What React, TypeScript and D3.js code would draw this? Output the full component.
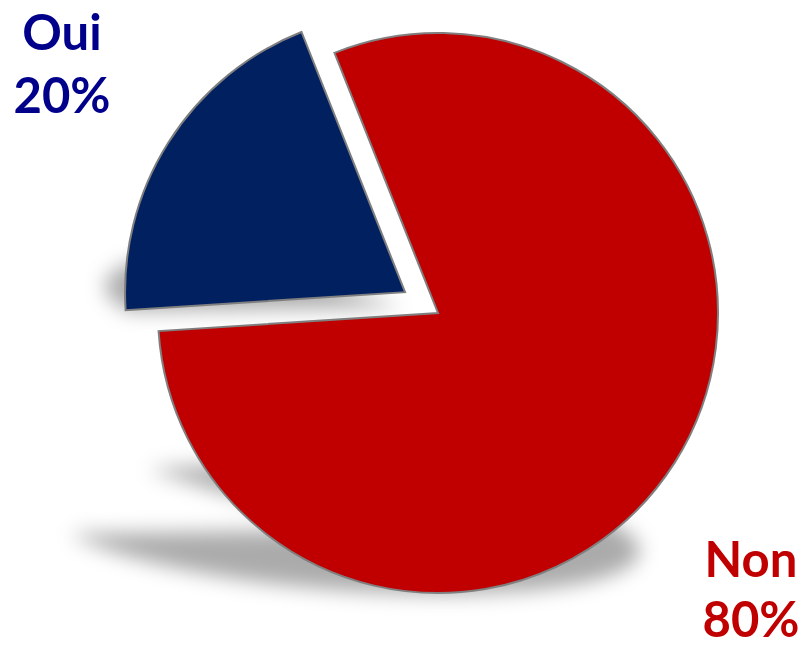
import React from "react";
import * as d3 from "d3";

// ---- data ----
const categories = ["Non", "Oui"];
const values = [80, 20];
const sliceColors = ["#C00000", "#002060"];
const labelColors = ["#C00000", "#00008B"];
const explodeDist = [0, 39];

// ---- layout ----
const W = 804;
const H = 646;
const cx = 438;
const cy = 313;
const R = 280;
const START = (-21.7 * Math.PI) / 180;

// perspective shadow parameters
const SK = 0.35; // skew
const SS = 0.23; // vertical flattening
const SDX = 3;
const SDY = 1;

const labelPosAll = [
  { x: 751, y1: 577, y2: 637 },
  { x: 62, y1: 50, y2: 113 },
];

export default function App() {
  const pie = d3
    .pie<number>()
    .sort(null)
    .value((d) => d)
    .startAngle(START)
    .endAngle(START + 2 * Math.PI);
  const arcs = pie(values);
  const arcGen = d3.arc<any>().innerRadius(0).outerRadius(R);
  const total = d3.sum(values);

  const slices = arcs.map((a, i) => {
    const mid = (a.startAngle + a.endAngle) / 2;
    const ox = explodeDist[i] * Math.sin(mid);
    const oy = -explodeDist[i] * Math.cos(mid);
    const Cx = cx + ox;
    const Cy = cy + oy;
    let yb = Cy;
    const n = 200;
    for (let j = 0; j <= n; j++) {
      const ang = a.startAngle + ((a.endAngle - a.startAngle) * j) / n;
      yb = Math.max(yb, Cy - R * Math.cos(ang));
    }
    const e = Cx + SK * (Cy - yb) + SDX;
    const f = yb + SDY + SS * (Cy - yb);
    return { a, i, Cx, Cy, d: arcGen(a) as string, shadow: `matrix(1,0,${SK},${SS},${e},${f})` };
  });

  return (
    <svg
      width={W}
      height={H}
      style={{ position: "absolute", left: 0, top: 0, background: "#fff" }}
    >
      <defs>
        <filter id="shblur" x="-30%" y="-60%" width="160%" height="220%">
          <feGaussianBlur stdDeviation="10" />
        </filter>
      </defs>
      <rect width={W} height={H} fill="#fff" />
      <g filter="url(#shblur)">
        {slices.map((s) => (
          <path key={"sh" + s.i} d={s.d} transform={s.shadow} fill="#000" fillOpacity={0.33} />
        ))}
      </g>
      {slices.map((s) => (
        <path
          key={"sl" + s.i}
          d={s.d}
          transform={`translate(${s.Cx},${s.Cy})`}
          fill={sliceColors[s.i]}
          stroke="#7f7f7f"
          strokeWidth={2}
          strokeLinejoin="miter"
        />
      ))}
      {categories.map((c, i) => (
        <text
          key={"lb" + i}
          textAnchor="middle"
          fontFamily="Lato, 'Open Sans', sans-serif"
          fontWeight={700}
          fontSize={49}
          fill={labelColors[i]}
        >
          <tspan x={labelPosAll[i].x} y={labelPosAll[i].y1}>
            {c}
          </tspan>
          <tspan x={labelPosAll[i].x} y={labelPosAll[i].y2}>
            {Math.round((values[i] / total) * 100) + "%"}
          </tspan>
        </text>
      ))}
    </svg>
  );
}
